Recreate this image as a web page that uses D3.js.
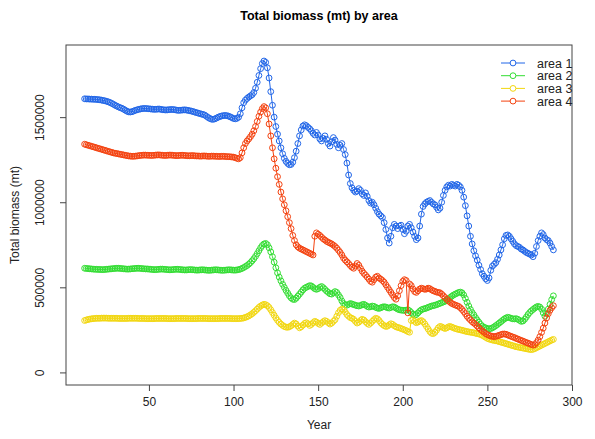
<!DOCTYPE html>
<html>
<head>
<meta charset="utf-8">
<script src="https://cdn.jsdelivr.net/npm/d3@7"></script>
<style>
    body { margin: 0; background: #fff; }
    svg { display: block; font-family: "Liberation Sans", Arial, sans-serif; }
</style>
</head>
<body>
<main id="root"><section id="content"></section></main>
<script>
"use strict";

// yearly values, first year = 12, last = 289, in thousands of mt
var first_year = 12;

var area1_kt = [
    1608, 1607, 1607, 1606, 1606, 1605, 1605, 1604,
    1603, 1602, 1600, 1598, 1596, 1593, 1590, 1586, 1581, 1576,
    1570, 1565, 1560, 1556, 1552, 1547, 1541, 1535, 1531, 1530,
    1532, 1536, 1540, 1543, 1546, 1548, 1550, 1551, 1551, 1550,
    1549, 1548, 1547, 1546, 1546, 1547, 1548, 1546, 1544, 1543,
    1542, 1543, 1544, 1545, 1545, 1544, 1542, 1540, 1540, 1541,
    1542, 1543, 1542, 1540, 1538, 1536, 1533, 1530, 1527, 1524,
    1521, 1518, 1516, 1512, 1505, 1498, 1492, 1488, 1487, 1490,
    1495, 1500, 1504, 1507, 1509, 1510, 1509, 1506, 1502, 1497,
    1492, 1490, 1493, 1500, 1520, 1555, 1585, 1600, 1610, 1618,
    1625, 1632, 1645, 1670, 1705, 1745, 1785, 1815, 1830, 1822,
    1790, 1730, 1650, 1570, 1500, 1445, 1400, 1360, 1320, 1285,
    1258, 1240, 1228, 1220, 1222, 1235, 1262, 1300, 1345, 1390,
    1425, 1448, 1455, 1450, 1440, 1432, 1420, 1405, 1395, 1410,
    1395, 1372, 1360, 1375, 1390, 1370, 1345, 1330, 1355, 1380,
    1365, 1340, 1320, 1335, 1345, 1310, 1280, 1230, 1160, 1110,
    1085, 1070, 1060, 1065, 1080, 1070, 1050, 1040, 1055, 1035,
    1010, 995, 1000, 985, 965, 945, 930, 920, 910, 880,
    840, 790, 760, 800, 850, 870, 860, 845, 860, 865,
    840, 815, 830, 860, 870, 850, 825, 800, 780, 790,
    860, 930, 975, 990, 1000, 1005, 1010, 1000, 990, 985,
    970, 955, 965, 1000, 1040, 1070, 1090, 1100, 1095, 1105,
    1100, 1095, 1105, 1100, 1090, 1070, 1030, 980, 920, 860,
    800, 755, 715, 685, 660, 630, 605, 580, 565, 550,
    540, 555, 600, 625, 635, 645, 665, 690, 720, 750,
    785, 805, 808, 800, 785, 770, 755, 745, 740, 735,
    725, 720, 712, 705, 700, 695, 690, 680, 700, 740,
    775, 800, 820, 810, 790, 780, 775, 760, 740, 720
];

var area2_kt = [
    612, 611, 610, 609, 608, 607, 606, 606,
    605, 605, 604, 604, 605, 606, 607, 608, 609, 610,
    611, 612, 612, 611, 610, 609, 608, 607, 607, 608,
    609, 610, 611, 612, 612, 611, 610, 609, 608, 608,
    607, 606, 605, 604, 604, 605, 606, 607, 607, 606,
    605, 604, 603, 603, 604, 605, 606, 606, 605, 604,
    603, 602, 602, 603, 604, 604, 603, 602, 601, 601,
    602, 603, 603, 602, 601, 600, 600, 601, 602, 603,
    603, 602, 601, 600, 600, 601, 602, 603, 603, 602,
    601, 601, 602, 604, 607, 611, 616, 622, 628, 636,
    645, 656, 668, 682, 698, 715, 732, 746, 755, 758,
    750, 732, 708, 680, 648, 615, 585, 560, 538, 518,
    500, 482, 466, 450, 438, 430, 428, 436, 448, 460,
    472, 485, 495, 500, 505, 510, 508, 500, 492, 488,
    492, 500, 505, 498, 488, 478, 470, 462, 460, 468,
    475, 470, 455, 440, 420, 405, 398, 395, 400, 405,
    402, 398, 395, 392, 390, 393, 398, 400, 395, 388,
    384, 386, 390, 388, 382, 378, 376, 380, 384, 386,
    384, 380, 378, 382, 386, 384, 378, 372, 368, 366,
    365, 364, 366, 368, 362, 352, 342, 336, 340, 350,
    360, 368, 372, 375, 378, 382, 386, 390, 392, 395,
    398, 402, 406, 410, 414, 418, 424, 432, 440, 448,
    455, 460, 465, 470, 472, 468, 455, 435, 412, 390,
    370, 352, 338, 322, 308, 295, 282, 272, 265, 262,
    258, 256, 258, 262, 268, 275, 282, 290, 298, 306,
    314, 320, 324, 322, 318, 315, 314, 316, 312, 306,
    300, 302, 312, 325, 340, 352, 362, 370, 378, 385,
    388, 384, 372, 350, 330, 345, 372, 400, 428, 450
];

var area3_kt = [
    305, 308, 311, 313, 315, 316, 317, 318,
    318, 318, 319, 319, 319, 319, 318, 318, 318, 318,
    318, 318, 317, 317, 317, 317, 317, 317, 318, 318,
    318, 318, 318, 318, 317, 317, 317, 317, 316, 316,
    316, 316, 316, 316, 317, 317, 317, 317, 317, 317,
    317, 316, 316, 316, 316, 316, 317, 317, 317, 317,
    317, 317, 317, 316, 316, 316, 316, 316, 316, 317,
    317, 317, 317, 317, 317, 316, 316, 316, 316, 316,
    316, 316, 317, 317, 317, 317, 317, 317, 317, 316,
    316, 316, 316, 316, 317, 318, 320, 323, 327, 332,
    338, 345, 353, 362, 372, 382, 390, 396, 400, 398,
    392, 382, 368, 352, 336, 320, 306, 294, 284, 276,
    270, 266, 265, 268, 274, 282, 290, 285, 272, 262,
    268, 278, 288, 292, 286, 276, 282, 292, 300, 296,
    288, 282, 290, 298, 304, 300, 292, 284, 290, 300,
    310, 330, 350, 365, 372, 368, 355, 340, 330, 322,
    318, 312, 300, 290, 295, 305, 312, 308, 298, 288,
    282, 290, 300, 310, 318, 315, 305, 292, 282, 275,
    270, 272, 280, 286, 282, 274, 268, 264, 262, 258,
    254, 250, 246, 240, 236, 305, 310, 300, 292, 296,
    302, 305, 298, 285, 270, 255, 240, 230, 228, 235,
    248, 262, 270, 268, 262, 258, 262, 268, 270, 266,
    262, 258, 255, 252, 250, 248, 245, 242, 240, 238,
    236, 235, 233, 230, 228, 226, 222, 218, 212, 206,
    200, 196, 193, 190, 188, 186, 184, 181, 178, 175,
    172, 169, 166, 163, 160, 157, 154, 151, 149, 147,
    145, 143, 141, 139, 137, 135, 134, 136, 140, 145,
    150, 155, 160, 165, 170, 175, 180, 185, 190, 194
];

var area4_kt = [
    1341, 1338, 1335, 1332, 1329, 1326, 1323, 1320,
    1317, 1314, 1311, 1308, 1305, 1302, 1299, 1296, 1293, 1290,
    1288, 1286, 1284, 1282, 1280, 1278, 1276, 1274, 1272, 1271,
    1270, 1270, 1271, 1272, 1274, 1275, 1276, 1277, 1277, 1276,
    1276, 1275, 1275, 1276, 1277, 1278, 1278, 1277, 1276, 1275,
    1275, 1276, 1277, 1277, 1276, 1275, 1274, 1274, 1275, 1276,
    1276, 1275, 1274, 1273, 1273, 1274, 1274, 1273, 1272, 1272,
    1271, 1271, 1272, 1272, 1271, 1270, 1270, 1271, 1271, 1270,
    1270, 1269, 1269, 1270, 1270, 1269, 1268, 1268, 1267, 1266,
    1265, 1262, 1258, 1255, 1262, 1290, 1320, 1345, 1360, 1372,
    1385, 1400, 1420, 1445, 1475, 1505, 1530, 1550, 1562, 1555,
    1520, 1460, 1390, 1320, 1255, 1200, 1150, 1105, 1060, 1020,
    985, 950, 915, 880, 845, 805, 775, 750, 738, 730,
    725, 720, 715, 710, 705, 700, 695, 690, 800, 820,
    812, 805, 795, 785, 778, 770, 765, 760, 755, 748,
    740, 730, 718, 705, 690, 672, 660, 650, 640, 628,
    618, 612, 625, 640, 630, 612, 595, 582, 572, 560,
    548, 535, 530, 545, 560, 565, 555, 548, 540, 530,
    515, 500, 485, 470, 455, 440, 430, 450, 480, 510,
    535, 545, 540, 350, 520, 510, 490, 475, 470, 480,
    490, 495, 492, 488, 490, 495, 492, 485, 480, 476,
    472, 470, 468, 460, 450, 440, 430, 420, 412, 405,
    400, 396, 392, 388, 380, 370, 358, 345, 330, 318,
    308, 298, 290, 282, 272, 262, 252, 244, 236, 228,
    222, 218, 214, 212, 210, 212, 215, 218, 222, 225,
    226, 224, 220, 216, 212, 208, 205, 200, 196, 192,
    188, 184, 180, 176, 172, 168, 164, 160, 163, 175,
    190, 210, 235, 260, 290, 320, 345, 365, 380, 392
];

var series_names = ['area 1', 'area 2', 'area 3', 'area 4'];
var series_colors = ['#2166e8', '#33dd33', '#f2d70f', '#f4420f'];
var series_values = [area1_kt, area2_kt, area3_kt, area4_kt];

var x_ticks = [50, 100, 150, 200, 250, 300];
var y_ticks = [0, 500000, 1000000, 1500000];

var width = 595;
var height = 439;

var box = { left: 66, right: 572, top: 45, bottom: 385 };

var svg = d3.select('section#content')
    .append('svg')
    .attr('width', width)
    .attr('height', height);

// R style usr range: data range padded by 4%
var x = d3.scaleLinear().domain([1, 300]).range([box.left, box.right]);
var y = d3.scaleLinear().domain([-74000, 1924000]).range([box.bottom, box.top]);

svg.append('text')
    .attr('x', (box.left + box.right) / 2)
    .attr('y', 20)
    .attr('text-anchor', 'middle')
    .attr('font-size', 12.5)
    .attr('font-weight', 'bold')
    .text('Total biomass (mt) by area');

var x_axis = svg.append('g')
    .attr('transform', 'translate(0,' + box.bottom + ')')
    .call(d3.axisBottom(x).tickValues(x_ticks).tickSize(6).tickPadding(6).tickFormat(d3.format('d')));

var y_axis = svg.append('g')
    .attr('transform', 'translate(' + box.left + ',0)')
    .call(d3.axisLeft(y).tickValues(y_ticks).tickSize(6).tickFormat(d3.format('d')));

[x_axis, y_axis].forEach(function( g ) {
    g.select('.domain').remove();
    g.selectAll('line').attr('stroke', '#444');
    g.selectAll('text').attr('font-size', 12).attr('fill', '#222').attr('font-family', '"Liberation Sans", Arial, sans-serif');
});

// y tick labels are turned, like R's default las = 0
y_axis.selectAll('text')
    .attr('x', null).attr('dy', null)
    .attr('text-anchor', 'middle')
    .attr('transform', 'translate(-22,0) rotate(-90)');

svg.append('rect')
    .attr('x', box.left).attr('y', box.top)
    .attr('width', box.right - box.left).attr('height', box.bottom - box.top)
    .attr('fill', 'none').attr('stroke', '#444').attr('stroke-width', 1);

svg.append('text')
    .attr('x', (box.left + box.right) / 2)
    .attr('y', 429)
    .attr('text-anchor', 'middle')
    .attr('font-size', 12)
    .attr('fill', '#222')
    .text('Year');

svg.append('text')
    .attr('transform', 'translate(19,' + (box.top + box.bottom) / 2 + ') rotate(-90)')
    .attr('text-anchor', 'middle')
    .attr('font-size', 12)
    .attr('fill', '#222')
    .text('Total biomass (mt)');

var line = d3.line()
    .x(function( d, i ) { return x(first_year + i); })
    .y(function( d ) { return y(d * 1000); });

var plot = svg.append('g');

series_values.forEach(function( values, k ) {
    var g = plot.append('g').attr('class', 'series');

    g.append('path')
        .attr('d', line(values))
        .attr('fill', 'none')
        .attr('stroke', series_colors[k])
        .attr('stroke-width', 1);

    g.selectAll('circle')
        .data(values)
        .enter().append('circle')
        .attr('cx', function( d, i ) { return x(first_year + i); })
        .attr('cy', function( d ) { return y(d * 1000); })
        .attr('r', 2.9)
        .attr('fill', 'none')
        .attr('stroke', series_colors[k])
        .attr('stroke-width', 1);
});

var legend = svg.append('g').attr('class', 'legend');

series_names.forEach(function( name, k ) {
    var ly = 63 + k * 12.7;

    legend.append('line')
        .attr('x1', 501).attr('x2', 525)
        .attr('y1', ly).attr('y2', ly)
        .attr('stroke', series_colors[k]).attr('stroke-width', 1);

    legend.append('circle')
        .attr('cx', 513).attr('cy', ly).attr('r', 2.9)
        .attr('fill', '#fff')
        .attr('stroke', series_colors[k]).attr('stroke-width', 1);

    legend.append('text')
        .attr('x', 537).attr('y', ly)
        .attr('dy', '0.36em')
        .attr('font-size', 12.5)
        .attr('fill', '#222')
        .text(name);
});

</script>
</body>
</html>
